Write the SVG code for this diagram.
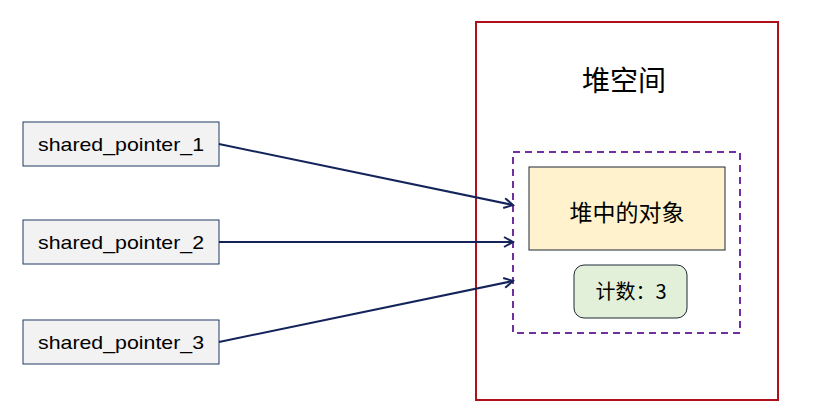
<svg xmlns="http://www.w3.org/2000/svg" width="816" height="413" viewBox="0 0 816 413">
<defs>
<style>
.ptr rect{fill:#F2F2F2;stroke:#1F3864;stroke-width:1}
.ptr text{font-family:"Liberation Sans",Arial,sans-serif;font-size:19px;fill:#000;text-anchor:middle}
.cjk{font-family:"Noto Sans CJK SC","Liberation Sans",sans-serif;fill:#000;text-anchor:middle}
.conn{stroke:#14245A;stroke-width:2;fill:none;marker-end:url(#arr)}
</style>
<marker id="arr" markerWidth="12" markerHeight="12" refX="10" refY="6" orient="auto" markerUnits="userSpaceOnUse">
<path d="M1,1 L10,6 L1,11" fill="none" stroke="#14245A" stroke-width="2"/>
</marker>
</defs>
<rect width="816" height="413" fill="#fff"/>
<g id="heap">
<rect x="476" y="22" width="302" height="378" fill="#fff" stroke="#B0101A" stroke-width="2"/>
<text class="cjk" x="624" y="91" font-size="28">堆空间</text>
</g>
<g id="group">
<rect x="513" y="152" width="227" height="181" fill="none" stroke="#7030A0" stroke-width="2" stroke-dasharray="7,5"/>
</g>
<g id="object">
<rect x="529" y="167" width="196" height="83" fill="#FFF2CC" stroke="#1F2937" stroke-width="1"/>
<text class="cjk" x="627" y="221" font-size="23">堆中的对象</text>
</g>
<g id="count">
<rect x="574" y="265" width="113" height="53" rx="10" fill="#E2F0D9" stroke="#1F2937" stroke-width="1"/>
<text class="cjk" x="631" y="299" font-size="20">计数：3</text>
</g>
<g id="p1" class="ptr">
<rect x="23" y="122" width="196" height="44"/>
<text x="121" y="151" textLength="166" lengthAdjust="spacingAndGlyphs">shared_pointer_1</text>
</g>
<g id="p2" class="ptr">
<rect x="23" y="220" width="196" height="44"/>
<text x="121" y="249" textLength="166" lengthAdjust="spacingAndGlyphs">shared_pointer_2</text>
</g>
<g id="p3" class="ptr">
<rect x="23" y="320" width="196" height="44"/>
<text x="121" y="349" textLength="166" lengthAdjust="spacingAndGlyphs">shared_pointer_3</text>
</g>
<g id="connectors">
<line class="conn" x1="219" y1="144" x2="513" y2="205"/>
<line class="conn" x1="219" y1="242" x2="513" y2="242"/>
<line class="conn" x1="219" y1="342" x2="513" y2="281"/>
</g>
</svg>
